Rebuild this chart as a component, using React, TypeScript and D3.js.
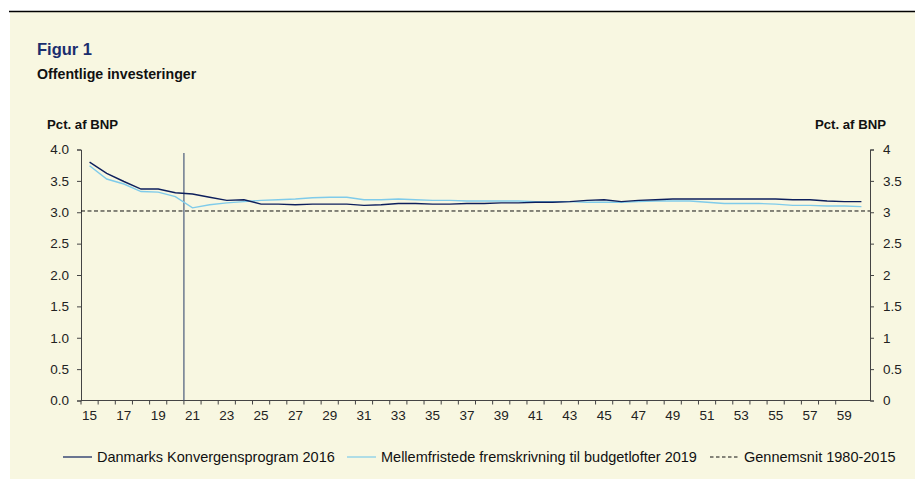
import React, { useEffect, useRef } from 'react';
import * as d3 from 'd3';

// 2015-2060, labels shown every other year
const years = ['15', '16', '17', '18', '19', '20', '21', '22', '23', '24', '25', '26', '27', '28', '29', '30',
  '31', '32', '33', '34', '35', '36', '37', '38', '39', '40', '41', '42', '43', '44', '45', '46', '47', '48',
  '49', '50', '51', '52', '53', '54', '55', '56', '57', '58', '59', '60'];

const konvergens2016 = [3.80, 3.62, 3.49, 3.37, 3.37, 3.31, 3.29, 3.24, 3.19, 3.20, 3.13, 3.13, 3.12, 3.13,
  3.13, 3.13, 3.11, 3.12, 3.14, 3.14, 3.13, 3.13, 3.14, 3.14, 3.15, 3.15, 3.16, 3.16, 3.17, 3.19, 3.20, 3.17,
  3.19, 3.20, 3.21, 3.21, 3.21, 3.21, 3.21, 3.21, 3.21, 3.20, 3.20, 3.18, 3.17, 3.17];

const mellemfristet2019 = [3.74, 3.53, 3.45, 3.33, 3.32, 3.25, 3.07, 3.12, 3.15, 3.17, 3.19, 3.20, 3.21, 3.23,
  3.24, 3.24, 3.20, 3.20, 3.21, 3.20, 3.19, 3.19, 3.18, 3.18, 3.18, 3.18, 3.17, 3.17, 3.17, 3.16, 3.16, 3.16,
  3.17, 3.18, 3.18, 3.18, 3.16, 3.14, 3.14, 3.14, 3.13, 3.11, 3.11, 3.10, 3.10, 3.09];

const gennemsnit = 3.02;
const leftTicks = [0, 0.5, 1, 1.5, 2, 2.5, 3, 3.5, 4];
const splitAfter = '20'; // vertical line between 20 and 21

const W = 915;
const H = 479;
const FONT = '"Liberation Sans", Arial, sans-serif';

const App = () => {
  const ref = useRef<SVGSVGElement>(null);

  useEffect(() => {
    const svg = d3.select(ref.current);
    svg.selectAll('*').remove();

    const left = 81, right = 870, top = 149.5, bottom = 400.5;

    svg.append('rect').attr('x', 10).attr('y', 11).attr('width', W - 10).attr('height', H - 11).attr('fill', '#f8f7e1');
    svg.append('line').attr('x1', 9).attr('x2', W).attr('y1', 11.5).attr('y2', 11.5).attr('stroke', '#000').attr('stroke-width', 1.5);

    svg.append('text').attr('x', 37).attr('y', 55).text('Figur 1')
      .attr('font-family', FONT).attr('font-size', 16.5).attr('font-weight', 'bold').attr('fill', '#1b2e6e');
    svg.append('text').attr('x', 37).attr('y', 79).text('Offentlige investeringer')
      .attr('font-family', FONT).attr('font-size', 14.2).attr('font-weight', 'bold').attr('fill', '#111');
    svg.append('text').attr('x', 47).attr('y', 129).text('Pct. af BNP')
      .attr('font-family', FONT).attr('font-size', 13.2).attr('font-weight', 'bold').attr('fill', '#111');
    svg.append('text').attr('x', 886).attr('y', 129).attr('text-anchor', 'end').text('Pct. af BNP')
      .attr('font-family', FONT).attr('font-size', 13.2).attr('font-weight', 'bold').attr('fill', '#111');

    const x = d3.scaleBand().domain(years).range([left, right]);
    const cx = (d: string) => (x(d) as number) + x.bandwidth() / 2;
    const y = d3.scaleLinear().domain([0, 4]).range([bottom, top]);

    // left axis
    const gl = svg.append('g').attr('transform', `translate(${left},0)`)
      .call(d3.axisLeft(y).tickValues(leftTicks).tickFormat(d3.format('.1f')).tickSize(4).tickPadding(8));
    // right axis
    const gr = svg.append('g').attr('transform', `translate(${right},0)`)
      .call(d3.axisRight(y).tickValues(leftTicks).tickFormat(d => String(+d)).tickSize(4).tickPadding(9));
    // x axis: ticks on category boundaries
    const gx = svg.append('g').attr('transform', `translate(0,${bottom})`)
      .call(d3.axisBottom(x).tickSize(0).tickPadding(10).tickFormat((d, i) => (i % 2 === 0 && d !== '60' ? d : '')));
    gx.selectAll('.tick').filter((d: any) => d !== '60').each(function () {
      d3.select(this).append('line').attr('x1', -x.bandwidth() / 2).attr('x2', -x.bandwidth() / 2)
        .attr('y1', 0).attr('y2', 4).attr('stroke', '#333');
    });

    [gl, gr, gx].forEach(g => {
      g.select('.domain').attr('stroke', '#444');
      g.selectAll('.tick line').attr('stroke', '#444');
      g.selectAll('text').attr('font-family', FONT).attr('font-size', 13.5).attr('fill', '#222');
    });
    gx.select('.domain').attr('d', `M${left},0H${right}`);

    // average
    svg.append('line').attr('x1', left).attr('x2', right).attr('y1', y(gennemsnit)).attr('y2', y(gennemsnit))
      .attr('stroke', '#111').attr('stroke-width', 1).attr('stroke-dasharray', '4,2.5');

    // split line
    const xs = (x(splitAfter) as number) + x.bandwidth();
    svg.append('line').attr('x1', xs).attr('x2', xs).attr('y1', 153).attr('y2', bottom)
      .attr('stroke', '#4a5a7a').attr('stroke-width', 1.2);

    const line = d3.line<number>().x((d, i) => cx(years[i])).y(d => y(d));

    svg.append('path').datum(mellemfristet2019).attr('fill', 'none').attr('stroke', '#7fcbea')
      .attr('stroke-width', 1.4).attr('d', line);
    svg.append('path').datum(konvergens2016).attr('fill', 'none').attr('stroke', '#0d1f5c')
      .attr('stroke-width', 1.4).attr('d', line);

    // legend
    const ly = 457;
    const legend = [
      { x: 63, label: 'Danmarks Konvergensprogram 2016', color: '#0d1f5c', dash: null },
      { x: 347, label: 'Mellemfristede fremskrivning til budgetlofter 2019', color: '#7fcbea', dash: null },
      { x: 710, label: 'Gennemsnit 1980-2015', color: '#111', dash: '3.5,2.5' },
    ];
    legend.forEach(l => {
      svg.append('line').attr('x1', l.x).attr('x2', l.x + 29).attr('y1', ly).attr('y2', ly)
        .attr('stroke', l.color).attr('stroke-width', 1.2).attr('stroke-dasharray', l.dash);
      svg.append('text').attr('x', l.x + 34).attr('y', ly + 5).text(l.label)
        .attr('font-family', FONT).attr('font-size', 14.5).attr('fill', '#111');
    });
  }, []);

  return <svg ref={ref} width={W} height={H} style={{ position: 'absolute', left: 0, top: 0, background: '#fff' }} />;
};

export default App;
